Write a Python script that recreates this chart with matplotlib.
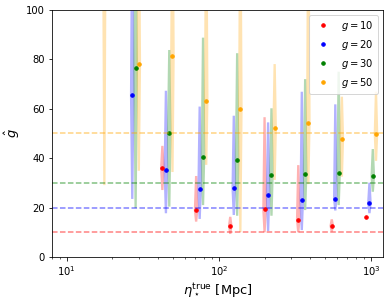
import numpy as np
import matplotlib
matplotlib.use("Agg")
import matplotlib.pyplot as plt

# true eta values (Mpc) for each group of violins
eta_true = [15.2, 25.6, 42.6, 71.0, 119.0, 200.0, 333.0, 553.0, 927.0]

g_values = [10, 20, 30, 50]
colors = ["red", "blue", "green", "orange"]

# central estimate of g-hat for each true g
ghat_10 = [np.nan, np.nan, 36.2, 19.0, 12.7, 19.3, 15.1, 12.6, 16.2]
ghat_20 = [np.nan, 65.5, 35.2, 27.7, 27.8, 25.2, 23.1, 23.6, 21.9]
ghat_30 = [np.nan, 76.6, 50.3, 40.6, 39.3, 33.3, 33.6, 34.1, 32.8]
ghat_50 = [130.0, 78.1, 81.5, 63.3, 60.0, 52.1, 54.1, 47.8, 49.8]

# lower / upper ends of each violin
lo_10 = [np.nan, np.nan, 27.1, 14.3, 9.3, 10.0, 10.0, 10.3, np.nan]
hi_10 = [np.nan, np.nan, 45.0, 32.8, 16.3, 56.6, 37.2, 15.3, np.nan]
lo_20 = [np.nan, 23.5, 17.7, 15.4, 17.0, 10.5, 10.9, 18.8, 17.7]
hi_20 = [np.nan, 140.0, 67.3, 60.9, 57.2, 54.5, 66.9, 61.8, 30.1]
lo_30 = [np.nan, 19.8, 20.4, 21.0, 16.7, 16.7, 19.0, 21.0, 26.4]
hi_30 = [np.nan, 140.0, 83.8, 88.8, 82.5, 60.2, 72.0, 75.0, 43.7]
lo_50 = [29.1, 34.9, 34.4, 37.3, 10.1, 31.2, 29.5, 32.5, 38.9]
hi_50 = [200.0, 150.0, 150.0, 150.0, 150.0, 78.1, 150.0, 64.9, 66.9]

ghat = [ghat_10, ghat_20, ghat_30, ghat_50]
lows = [lo_10, lo_20, lo_30, lo_50]
highs = [hi_10, hi_20, hi_30, hi_50]

# small shift along x so the colours don't overlap
shifts = [1.0, 1.055, 1.11, 1.165]


def main():
    fig = plt.figure(figsize=(390 / 72, 302 / 72), dpi=72)
    ax = fig.add_axes([0.133, 0.149, 0.849, 0.818])
    ax.set_xscale("log")

    for k in range(len(g_values)):
        pos = np.array(eta_true) * shifts[k]
        # violins built from the ends and the centre value
        stats, vpos = [], []
        for i in range(len(pos)):
            if np.isnan(lows[k][i]):
                continue
            stats.append({
                "coords": np.array([lows[k][i], ghat[k][i], highs[k][i]]),
                "vals": np.array([0.5, 1.0, 0.5]),
                "mean": ghat[k][i], "median": ghat[k][i],
                "min": lows[k][i], "max": highs[k][i],
            })
            vpos.append(pos[i])
        parts = ax.violin(stats, positions=vpos, widths=np.array(vpos) * 0.07,
                          showmeans=False, showextrema=False, showmedians=False)
        for body in parts["bodies"]:
            body.set_facecolor(colors[k])
            body.set_edgecolor("none")
            body.set_alpha(0.3)
        ax.plot(pos, ghat[k], "o", ms=3.5, color=colors[k],
                label=r"$g = %d$" % g_values[k])
        ax.axhline(g_values[k], color=colors[k], ls="--", alpha=0.5, lw=1.5)

    ax.set_xlim(8.0, 1200)
    ax.set_ylim(0, 100)
    ax.set_xlabel(r"$\eta_\star^{\rm true}$ [Mpc]", fontsize=13)
    ax.set_ylabel(r"$\hat{g}$", fontsize=13)
    ax.legend(loc="upper right")
    fig.savefig("out.png", dpi=72)


if __name__ == "__main__":
    main()
